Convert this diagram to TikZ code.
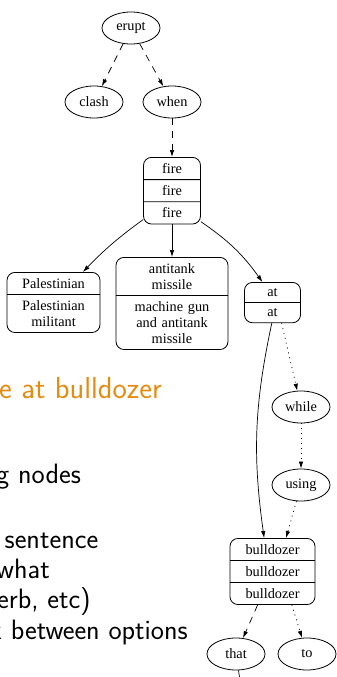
\documentclass[tikz,border=0pt]{standalone}
\usepackage{fontspec}
\newfontfamily\graphfont{Liberation Serif}
\usetikzlibrary{arrows.meta,positioning,shapes.geometric,shapes.multipart}
\definecolor{titleorange}{RGB}{228,140,18}

\begin{document}
\begin{tikzpicture}[x=1pt,y=1pt]
\tikzset{
  wordnode/.style={ellipse,draw,line width=0.8pt,minimum width=58pt,minimum height=32pt,inner sep=0pt,font=\graphfont\fontsize{14.3}{16}\selectfont},
  groupnode/.style={rectangle split,rectangle split parts=#1,draw,line width=0.8pt,rounded corners=8pt,inner xsep=3pt,inner ysep=5.6pt,align=center,anchor=north,font=\graphfont\fontsize{14.3}{16}\selectfont},
  solidarc/.style={-{Latex[length=7pt,width=4.5pt]},line width=0.7pt},
  dashedarc/.style={solidarc,dash pattern=on 7pt off 6pt},
  dottedarc/.style={solidarc,dash pattern=on 1pt off 4pt},
  slidetext/.style={anchor=base west,inner sep=0pt,font=\sffamily\fontsize{28}{31}\selectfont}
}
\useasboundingbox (0,0) rectangle (337,-677);
% parse graph
\node[wordnode] (erupt) at (131,-28) {erupt};
\node[wordnode] (clash) at (94,-102) {clash};
\node[wordnode] (when) at (172,-102) {when};
\node[groupnode=3,text width=51pt] (fire) at (172,-157) {fire\nodepart{two}fire\nodepart{three}fire};
\node[groupnode=2,text width=87pt] (palestinian) at (53.5,-272) {Palestinian\nodepart{two}Palestinian\\militant};
\node[groupnode=2,text width=106pt] (missile) at (172,-257) {antitank\\missile\nodepart{two}machine gun\\and antitank\\missile};
\node[groupnode=2,text width=50pt] (at) at (272.5,-282) {at\nodepart{two}at};
\node[wordnode] (while) at (301,-407) {while};
\node[wordnode] (using) at (301,-485) {using};
\node[groupnode=3,text width=79pt] (bulldozer) at (272.5,-538) {bulldozer\nodepart{two}bulldozer\nodepart{three}bulldozer};
\node[wordnode] (that) at (236,-654) {that};
\node[wordnode] (to) at (307,-654) {to};
\coordinate (thatout) at (243,-700);

\draw[dashedarc] (erupt) -- (clash);
\draw[dashedarc] (erupt) -- (when);
\draw[dashedarc] (when) -- (fire.north);
\draw[solidarc] (fire.225) to[bend right=5] (palestinian.46);
\draw[solidarc] (fire.south) -- (missile.north);
\draw[solidarc] (fire.-47) to[bend left=10] (at.116);
\draw[solidarc] (at.268) to[bend right=10] (bulldozer.104);
\draw[dottedarc] (at.-66) -- (while);
\draw[dottedarc] (while) -- (using);
\draw[dottedarc] (using) -- (bulldozer.68);
\draw[dashedarc] (bulldozer.-114) -- (that);
\draw[dottedarc] (bulldozer.-60) -- (to);
\draw[line width=0.7pt] (that) -- (thatout);

% slide text
\node[slidetext,text=titleorange,font=\sffamily\fontsize{30.4}{34}\selectfont] (title) at (-1,-398) {e at bulldozer};
\node[slidetext] (nodesline) at (-4,-483) {g nodes};
\node[slidetext] (sentenceline) at (4.5,-548) {sentence};
\node[slidetext] (whatline) at (-4,-578) {what};
\node[slidetext] (verbline) at (-3,-608) {erb, etc)};
\node[slidetext] (optionsline) at (-11,-639) {k between options};
\end{tikzpicture}
\end{document}
